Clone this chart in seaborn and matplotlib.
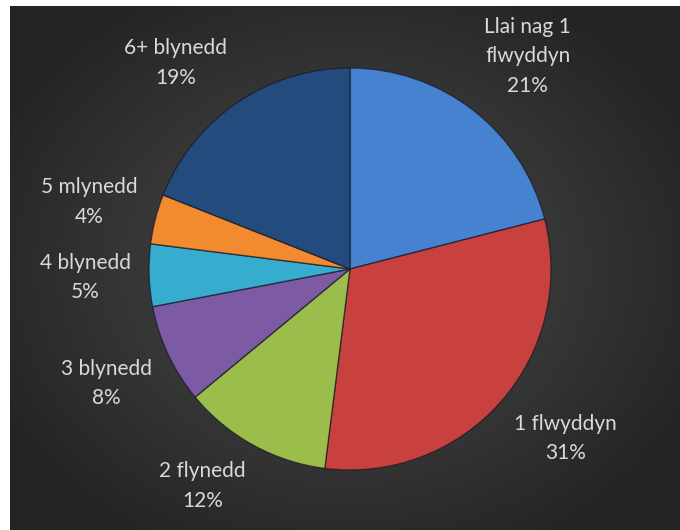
import numpy as np
import matplotlib.pyplot as plt
import seaborn as sns

# Data
categories = ["Llai nag 1\nflwyddyn", "1 flwyddyn", "2 flynedd", "3 blynedd",
              "4 blynedd", "5 mlynedd", "6+ blynedd"]
shares = [21, 31, 12, 8, 5, 4, 19]
colors = ["#4682d0", "#c9413f", "#9bbd4b", "#7d5aa4", "#36acce", "#f28b2f", "#234b7d"]

sns.set_theme(style="white")
plt.rcParams['font.family'] = ['Lato', 'DejaVu Sans']

W, H = 680, 530
fig = plt.figure(figsize=(W / 100, H / 100), dpi=100, facecolor="white")

# dark radial-gradient background
bg = fig.add_axes([10 / W, 0, 670 / W, 524 / H])
yy, xx = np.mgrid[-1:1:300j, -1:1:400j]
rr = np.sqrt((xx * 1.05) ** 2 + (yy * 1.0) ** 2)
shade = np.clip(0.30 - 0.13 * rr, 0.14, 0.3)
bg.imshow(np.dstack([shade] * 3), aspect="auto", extent=(0, 1, 0, 1))
bg.set_axis_off()

# pie
cx, cy, r = 350, H - 269, 201
ax = fig.add_axes([(cx - r) / W, (cy - r) / H, 2 * r / W, 2 * r / H])
labels = [f"{c}\n{v}%" for c, v in zip(categories, shares)]
wedges, texts = ax.pie(shares, labels=labels, colors=colors, startangle=90,
                       counterclock=False, radius=1, labeldistance=1.09,
                       wedgeprops=dict(linewidth=1.0, edgecolor=(0.1, 0.1, 0.15, 0.7)),
                       textprops=dict(color="#d9d9d9", fontsize=15, ha="center",
                                      va="center", linespacing=1.6))
ax.set_xlim(-1, 1)
ax.set_ylim(-1, 1)
ax.set_axis_off()

# push each label outwards so its near corner sits on the anchor point
fig.canvas.draw()
renderer = fig.canvas.get_renderer()
for w, t in zip(wedges, texts):
    ang = np.deg2rad((w.theta1 + w.theta2) / 2)
    c, s = np.cos(ang), np.sin(ang)
    bb = t.get_window_extent(renderer)
    hw, hh = bb.width / 2 / r, bb.height / 2 / r
    x0, y0 = t.get_position()
    t.set_position((x0 + hw * np.sign(c) * min(1, abs(c) * 2),
                    y0 + hh * np.sign(s) * min(1, abs(s) * 2)))

fig.savefig("out.png", dpi=100, facecolor="white")
